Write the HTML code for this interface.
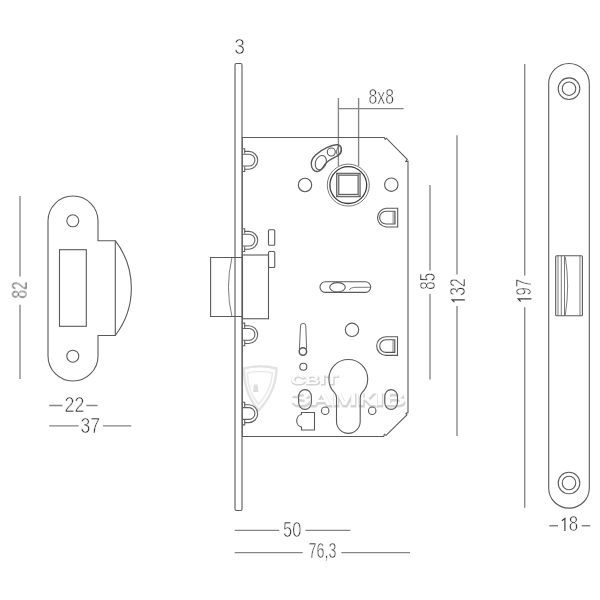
<!DOCTYPE html>
<html><head><meta charset="utf-8">
<style>
html,body{margin:0;padding:0;background:#fff;width:600px;height:600px;overflow:hidden}
svg{display:block}
.one{fill:none;stroke:#3a3a3a;stroke-width:1.15px}
text{font-family:"Liberation Sans",sans-serif;fill:#333;stroke:#fff;stroke-width:0.55px;paint-order:normal}
</style></head>
<body>
<svg width="600" height="600" viewBox="0 0 600 600">
<rect width="600" height="600" fill="#fff"/>
<!-- dimension lines -->
<g stroke="#858585" stroke-width="1.35" fill="none">
  <!-- 82 -->
  <path d="M20,196V276.5M20,304.8V379"/>
  <!-- 22 / 37 -->
  <path d="M49.2,405.5H62.5M86.3,405.5H97.5"/>
  <path d="M49.2,425.8H78.7M103,425.8H131.3"/>
  <!-- 50 / 76,3 -->
  <path d="M234.7,530.3H279.2M305.4,530.3H350.4"/>
  <path d="M234.7,552.6H302.7M341.4,552.6H410"/>
  <!-- 85 132 197 -->
  <path d="M430,185V270.4M430,294.1V379.6"/>
  <path d="M457,135.3V274.5M457,306V436"/>
  <path d="M524.7,64V275.4M524.7,307.2V507.7"/>
  <!-- 18 -->
  <path d="M549.3,525.7H558M581.7,525.7H590.2"/>
  <!-- 8x8 -->
  <path d="M338.4,98V166M358.6,98V166M338.4,108.6H403.6"/>
</g>

<!-- strike plate left -->
<g stroke="#5a5a5a" stroke-width="1.1" fill="none">
  <path d="M48,221A25,25 0 0 1 98,221V240.7H115.3V335.5H98V356A25,25 0 0 1 48,356Z"/>
  <path d="M115.3,240.7A78,78 0 0 1 115.3,335.5"/>
  <circle cx="72.8" cy="220.8" r="6"/>
  <circle cx="72.8" cy="356.2" r="6"/>
  <rect x="59.5" y="249.7" width="26.8" height="76.6"/>
</g>

<!-- watermark -->
<defs><filter id="bl" x="-20%" y="-20%" width="140%" height="140%"><feGaussianBlur stdDeviation="0.7"/></filter></defs>
<g filter="url(#bl)">
  <path d="M244,368.5Q260,364 276.5,368.5Q276,392 258.5,410.5Q243.5,392 244,368.5Z" fill="none" stroke="#e3e3e3" stroke-width="2.4"/>
  <path d="M247.5,373Q260,370 272.5,373Q271.5,390 258.5,404.5Q247,390 247.5,373Z" fill="none" stroke="#eaeaea" stroke-width="1.6"/>
  <path d="M254,384.5H257.5L258.5,392H253Z" fill="#dedede"/>
  <text x="291" y="385" font-size="13.4" font-weight="bold" textLength="47.5" lengthAdjust="spacingAndGlyphs" style="fill:#d4d4d4;stroke:#d4d4d4;stroke-width:1.2px;font-family:'Liberation Sans'">СВІТ</text>
  <text x="292" y="406.5" font-size="19" font-weight="bold" textLength="114" lengthAdjust="spacingAndGlyphs" style="fill:#d4d4d4;stroke:#d4d4d4;stroke-width:1.2px;font-family:'Liberation Sans'">ЗАМКІВ</text>
</g>
<g opacity="0.99">
  <text x="290.4" y="383.5" font-size="13.4" font-weight="bold" textLength="47.5" lengthAdjust="spacingAndGlyphs" style="fill:#fff;stroke:none;font-family:'Liberation Sans'">СВІТ</text>
  <text x="291.5" y="405" font-size="19" font-weight="bold" textLength="114" lengthAdjust="spacingAndGlyphs" style="fill:#fff;stroke:none;font-family:'Liberation Sans'">ЗАМКІВ</text>
</g>
<!-- lock -->
<g stroke="#5a5a5a" stroke-width="1.1" fill="none">
  <rect x="235" y="63.5" width="7" height="447" rx="1.5"/>
  <path d="M242,137.5H384.3L385.2,139.3L386.3,138.2L407.2,159.4L405.9,161.4H408V412.6L406,413.4L406.9,415L386.1,435.4L384.4,434.4L383.7,436.5H242"/>
  <path d="M242.4,137.5V436.5" stroke-width="0.9"/>
  <!-- latch bolt -->
  <path d="M242,257.5H210.6V316.5H242"/>
  <path d="M231.9,257.75Q225,287.5 231.9,316.25" stroke-width="0.8"/>
  <rect x="242.5" y="255" width="26" height="63.75"/>
  <rect x="268.5" y="229.7" width="6.25" height="15.6" rx="1"/>
  <rect x="268.5" y="251.5" width="6.25" height="16" rx="1"/>
  <!-- spindle -->
  <circle cx="348.3" cy="185.1" r="21" stroke="#7a7a7a" stroke-width="1"/>
  <circle cx="348.3" cy="185.1" r="18.4" stroke="#3c3c3c" stroke-width="1.3"/>
  <rect x="336.7" y="173.3" width="23.4" height="23.4" fill="#e2e2e2"/>
  <rect x="338.8" y="175.2" width="19.3" height="19.2" fill="#fff"/>
  <path d="M336.7,173.3L338.8,175.2M360.1,173.3L358.1,175.2M336.7,196.7L338.8,194.4M360.1,196.7L358.1,194.4" stroke-width="0.8"/>
  <!-- holes -->
  <circle cx="305" cy="185" r="6.7"/>
  <circle cx="391.3" cy="184.7" r="6.7"/>
  <circle cx="352" cy="329.8" r="6.7"/>
  <circle cx="303.3" cy="366.7" r="3.5"/>
  <circle cx="325.2" cy="410.7" r="3.75"/>
  <circle cx="372.2" cy="410.7" r="3.75"/>
  <!-- euro cylinder -->
  <path d="M336.5,421.5V398Q336.5,394.6 334.5,392.6A19.4,19.4 0 1 1 362.1,392.6Q360.2,394.6 360.2,398V421.5A11.85,11.85 0 0 1 336.5,421.5Z"/>
  <!-- ovals -->
  <rect x="298.6" y="389.6" width="12.8" height="19.8" rx="6.4" ry="7.2"/>
  <rect x="384.7" y="389.6" width="12.8" height="19.8" rx="6.4" ry="7.2"/>
  <!-- tab -->
  <path d="M301.5,412.5H314.5V430H301.5V427A5.5,6.3 0 0 1 301.5,414.5Z"/>
  <!-- pin -->
  <path d="M299.4,349L300.5,326A2.65,2.65 0 0 1 305.8,326L306.6,349" stroke-width="0.9"/>
  <circle cx="302.9" cy="351.5" r="3.7" stroke-width="1.5"/>
  <!-- horizontal slot -->
  <path d="M325.3,281.7H365.4A5.35,5.35 0 0 1 365.4,292.4H325.3A5.35,5.35 0 0 1 325.3,281.7Z"/>
  <ellipse cx="337.5" cy="287.3" rx="7.8" ry="4.7"/>
  <path d="M349.3,290Q350,287.5 356,287.3H370" stroke-width="0.8"/>
  <!-- D shapes -->
  <rect x="392.3" y="211.5" width="2.7" height="12.3" fill="#bdbdbd" stroke="none"/>
  <rect x="392.1" y="339.9" width="2.7" height="12.3" fill="#bdbdbd" stroke="none"/>
  <path d="M397.7,208.3V227H386A9.4,9.4 0 0 1 386,208.3Z"/>
  <path d="M395,211.3V224H386A6.35,6.35 0 0 1 386,211.3Z"/>
  <path d="M397.5,336.7V355.4H386A9.35,9.35 0 0 1 386,336.7Z"/>
  <path d="M394.8,339.7V352.4H386A6.35,6.35 0 0 1 386,339.7Z"/>
  <!-- lever slot -->
  <path d="M311.3,163C311.5,158 318,151.5 327.3,147.3C331,145.5 335,144.3 338,144.8C341,145.6 341.8,149 341.3,151.5C340.6,154.3 338.5,155.5 336,156.7C331,159 327,161.5 324.7,164.7C323,167.5 321.5,170.7 318,171.4C314.5,172 311,169 311.3,163Z" stroke-width="1.4"/>
  <circle cx="331.3" cy="152" r="4"/>
  <ellipse cx="320.8" cy="162.6" rx="5.3" ry="7.4" transform="rotate(22 320.8 162.6)"/>
  <ellipse cx="338.8" cy="150.3" rx="2" ry="4.8" transform="rotate(12 338.8 150.3)" stroke-width="0.8"/>
</g>
<!-- staples -->
<g stroke="#606060" stroke-width="1.1" fill="none">
  <g id="st"><path d="M242,148.8H244.7V153.6M244.7,166.4V171.5H242"/><path d="M244.7,151.4H248.7A9,8.9 0 0 1 248.7,169.2H244.7"/><path d="M242,154.2H249A5.9,5.9 0 0 1 249,166H242"/></g>
  <use href="#st" y="80"/>
  <use href="#st" y="174.3"/>
  <use href="#st" y="253.4"/>
</g>

<!-- right faceplate -->
<g stroke="#5a5a5a" stroke-width="1.1" fill="none">
  <path d="M548.7,83.8A20.3,20.3 0 0 1 589.3,83.8V487.9A20.3,20.3 0 0 1 548.7,487.9Z"/>
  <circle cx="569" cy="88.7" r="10.8"/>
  <circle cx="569" cy="88.7" r="6.75"/>
  <circle cx="569" cy="483" r="10.8"/>
  <circle cx="569" cy="483" r="6.75"/>
  <rect x="555.7" y="255.7" width="26.7" height="60" rx="1"/>
  <path d="M558,256V315.7M561.3,256V315.7M564.5,256V315.7M580,256V315.7" stroke-width="0.8"/>
  <path d="M565.3,257Q570,286 565.3,315" stroke-width="0.8"/>
</g>

<!-- texts -->
<g font-size="21.3" opacity="0.99">
  <text x="234.2" y="53.8" textLength="10.7" lengthAdjust="spacingAndGlyphs">3</text>
  <text x="368.6" y="103.6" textLength="25.4" lengthAdjust="spacingAndGlyphs">8x8</text>
  <text x="64.6" y="411.7" textLength="19.8" lengthAdjust="spacingAndGlyphs">22</text>
  <text x="80.4" y="432.5" textLength="19.6" lengthAdjust="spacingAndGlyphs">37</text>
  <text x="283" y="537" textLength="18.3" lengthAdjust="spacingAndGlyphs">50</text>
  <text x="308.4" y="558" textLength="28" lengthAdjust="spacingAndGlyphs">76,3</text>
  <text x="568.7" y="531.3" textLength="9.4" lengthAdjust="spacingAndGlyphs">8</text>
  <path d="M561.9,520.8L564.9,518.5V531" class="one"/>
  <text transform="translate(26.8,298.5) rotate(-90)" textLength="17" lengthAdjust="spacingAndGlyphs">82</text>
  <text transform="translate(434.9,289.7) rotate(-90)" textLength="16.9" lengthAdjust="spacingAndGlyphs">85</text>
  <g transform="translate(464.8,303.1) rotate(-90)"><text x="7.3" textLength="17.6" lengthAdjust="spacingAndGlyphs">32</text><path d="M0.9,-10.4L3.3,-12.8V0" class="one"/></g>
  <g transform="translate(531.4,302.7) rotate(-90)"><text x="7.3" textLength="16.3" lengthAdjust="spacingAndGlyphs">97</text><path d="M1.2,-10.8L3.8,-13.2V0" class="one"/></g>
</g>
</svg>
</body></html>
